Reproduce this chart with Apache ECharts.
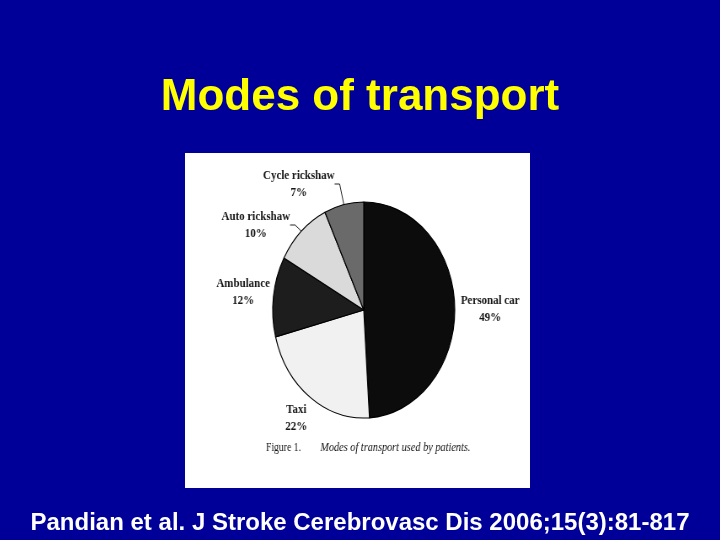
<!DOCTYPE html>
<html>
<head>
<meta charset="utf-8">
<script src="https://cdn.jsdelivr.net/npm/echarts@6/dist/echarts.min.js"></script>
<style>
  html, body { margin: 0; padding: 0; background: #000099; }
  #slide { position: absolute; left: 0; top: 0; width: 720px; height: 540px; }
  /* the scanned figure is squeezed sideways, so the pie layer is too */
  #figure { position: absolute; left: 185px; top: 153px; width: 409px; height: 335px;
            transform: scaleX(0.843); transform-origin: 0 0; }
</style>
</head>
<body>
<div id="slide"></div>
<div id="figure"></div>
<script>
// data
const categories = ['Personal car', 'Taxi', 'Ambulance', 'Auto rickshaw', 'Cycle rickshaw'];
const shares = [49, 22, 12, 10, 7];
const sliceColors = ['#0c0c0c', '#f1f1f1', '#1d1d1d', '#dadada', '#6a6a6a'];
const titleText = 'Modes of transport';
const captionLead = 'Figure 1.';
const captionText = 'Modes of transport used by patients.';
const sourceText = 'Pandian et al. J Stroke Cerebrovasc Dis 2006;15(3):81-817';

// label spots inside the figure layer (unscaled px), and which get a leader line
const labelPos = [[362, 156], [132, 265], [69, 139], [84, 72], [135, 31]];
const withLine = [false, false, false, true, true];

const slide = echarts.init(document.getElementById('slide'));
slide.setOption({
  backgroundColor: '#000099',
  animation: false,
  graphic: [
    {
      type: 'rect',
      shape: { x: 185, y: 153, width: 345, height: 335 },
      style: { fill: '#ffffff' }
    },
    {
      type: 'text',
      x: 360, y: 98,
      style: {
        text: titleText,
        fill: '#ffff00',
        fontFamily: '"Liberation Sans", Arial',
        fontWeight: 'bold',
        fontSize: 44,
        align: 'center',
        verticalAlign: 'middle'
      }
    },
    {
      type: 'text',
      x: 360, y: 523,
      style: {
        text: sourceText,
        fill: '#ffffff',
        fontFamily: '"Liberation Sans", Arial',
        fontWeight: 'bold',
        fontSize: 24,
        align: 'center',
        verticalAlign: 'middle'
      }
    }
  ]
});

const figure = echarts.init(document.getElementById('figure'));
const pieData = categories.map((name, i) => ({
  name: name,
  value: shares[i],
  itemStyle: { color: sliceColors[i] },
  labelLine: { show: withLine[i] }
}));

figure.setOption({
  animation: false,
  graphic: [
    {
      type: 'text',
      x: 96, y: 295,
      style: {
        text: '{a|' + captionLead + '}{b|' + captionText + '}',
        verticalAlign: 'middle',
        rich: {
          a: { fontFamily: '"Liberation Serif", serif', fontSize: 11.5, fill: '#111' },
          b: { fontFamily: '"Liberation Serif", serif', fontSize: 12.2, fontStyle: 'italic',
               fill: '#111', padding: [0, 0, 0, 23] }
        }
      }
    }
  ],
  series: [
    {
      type: 'pie',
      center: [212, 157],
      radius: 108,
      startAngle: 90,
      clockwise: true,
      data: pieData,
      itemStyle: { borderColor: '#000', borderWidth: 1.2 },
      label: {
        show: true,
        position: 'outside',
        formatter: function (p) { return p.name + '\n' + p.value + '%'; },
        fontFamily: '"Liberation Serif", serif',
        fontWeight: 'bold',
        fontSize: 13,
        lineHeight: 17,
        color: '#151515',
        align: 'center',
        overflow: 'none'
      },
      labelLine: {
        length: 8,
        length2: 6,
        lineStyle: { color: '#222', width: 1 }
      },
      labelLayout: function (p) {
        const pos = labelPos[p.dataIndex];
        return { x: pos[0], y: pos[1], align: 'center', verticalAlign: 'middle' };
      }
    }
  ]
});
</script>
</body>
</html>
